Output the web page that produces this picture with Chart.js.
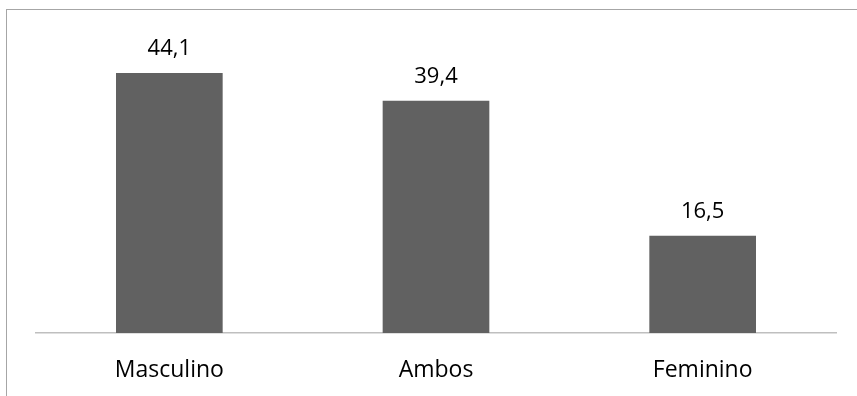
<!DOCTYPE html>
<html>
<head>
<meta charset="utf-8">
<script src="https://cdn.jsdelivr.net/npm/chart.js@4"></script>
<style>
    html, body { margin: 0; padding: 0; background: #fff; }
    #wrap { position: relative; width: 857px; height: 396px; overflow: hidden; }
    #frame { position: absolute; left: 6px; top: 9px; width: 900px; height: 500px;
             border-left: 1px solid #a6a6a6; border-top: 1px solid #a6a6a6; }
    canvas { position: absolute; left: 0; top: 0; }
</style>
</head>
<body>
<div id="wrap">
    <div id="frame"></div>
    <canvas id="sexChart" width="857" height="396"></canvas>
</div>
<script>
const categories = ['Masculino', 'Ambos', 'Feminino'];
const values = [44.1, 39.4, 16.5];

const FONT = "'Open Sans', sans-serif";

// writes each bar's value above it, with a decimal comma
const valueLabels = {
    id: 'valueLabels',
    afterDatasetsDraw(chart) {
        const ctx = chart.ctx;
        const meta = chart.getDatasetMeta(0);
        ctx.save();
        ctx.font = '22px ' + FONT;
        ctx.fillStyle = '#000';
        ctx.textAlign = 'center';
        ctx.textBaseline = 'alphabetic';
        meta.data.forEach((bar, i) => {
            const txt = values[i].toFixed(1).replace('.', ',');
            ctx.fillText(txt, bar.x, bar.y - 18);
        });
        ctx.restore();
    }
};

function createChart() {
    const ctx = document.getElementById('sexChart').getContext('2d');
    new Chart(ctx, {
        type: 'bar',
        data: {
            labels: categories,
            datasets: [{
                data: values,
                backgroundColor: '#616161',
                borderWidth: 0,
                categoryPercentage: 1,
                barPercentage: 0.4
            }]
        },
        options: {
            responsive: false,
            animation: false,
            layout: {
                padding: { left: 36, right: 21, top: 20, bottom: 0 }
            },
            plugins: {
                legend: { display: false },
                tooltip: { enabled: false }
            },
            scales: {
                x: {
                    grid: { display: false, drawTicks: false },
                    border: { display: true, color: '#bfbfbf', width: 1.5 },
                    ticks: {
                        color: '#000',
                        padding: 24,
                        font: { family: FONT, size: 23 }
                    },
                    // fixed band under the plot for the category names
                    afterFit(scale) { scale.height = 63; }
                },
                y: {
                    display: false,
                    min: 0,
                    max: 53.1
                }
            }
        },
        plugins: [valueLabels]
    });
}

createChart();
</script>
</body>
</html>
